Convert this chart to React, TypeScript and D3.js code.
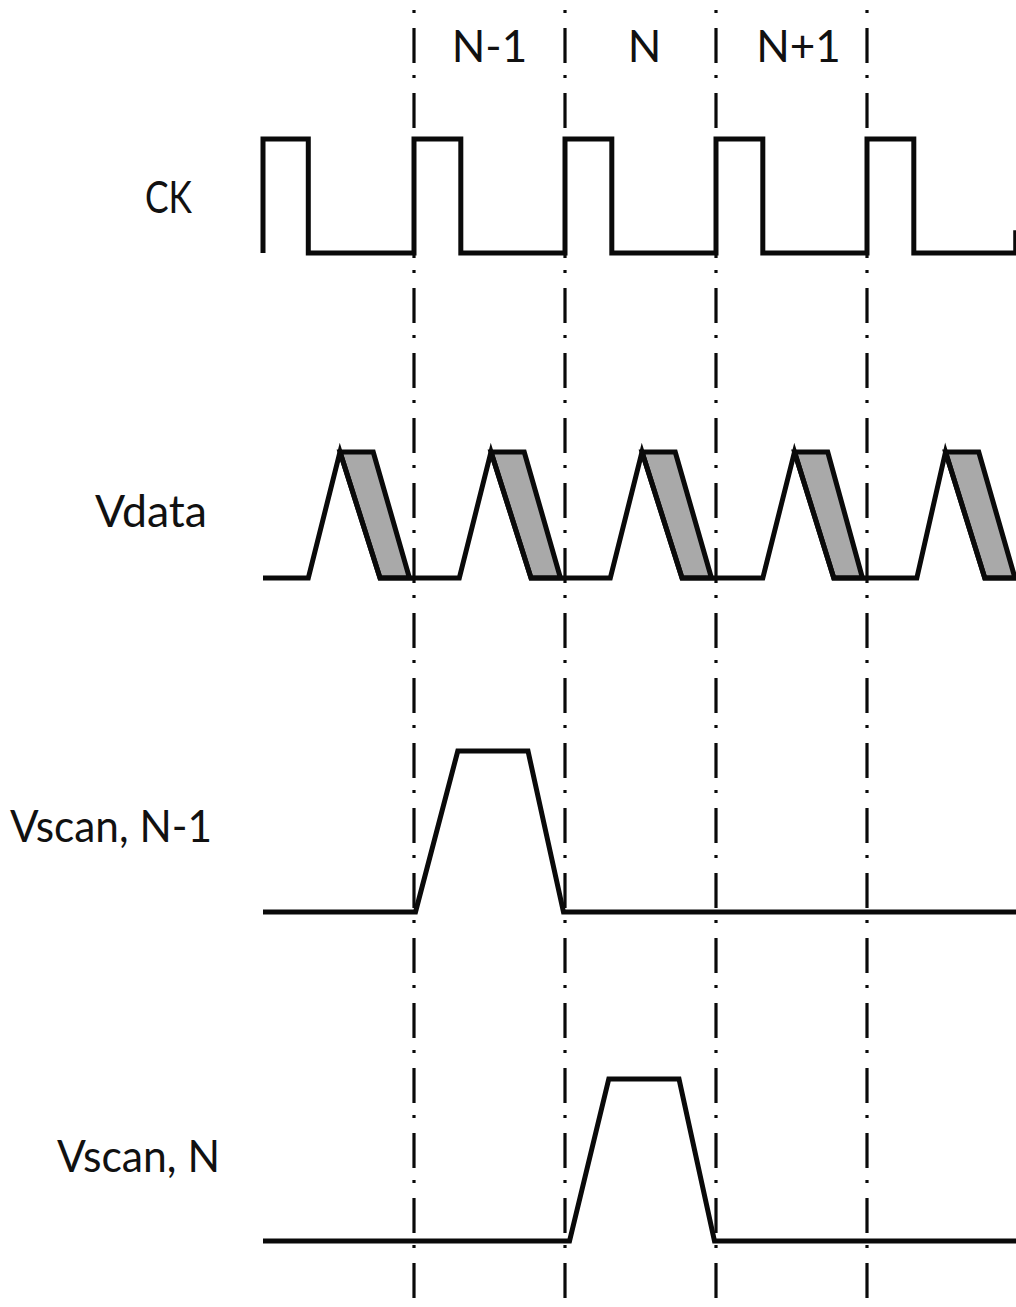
import React from "react";
import * as d3 from "d3";

// ---- data (time in frame periods; 0..3 are the frame boundaries) ----
const frameBoundaries = [0, 1, 2, 3];
const periodLabels = ["N-1", "N", "N+1"];
const signalLabels = ["CK", "Vdata", "Vscan, N-1", "Vscan, N"];

// CK: high pulses [start, end]
const ckHighStart = [-1, 0, 1, 2, 3];
const ckHighEnd = [-0.7, 0.31, 1.31, 2.31, 3.31];

// Vdata pulses
const vdataRise = [-0.7, 0.3, 1.3, 2.31, 3.33];
const vdataPeak = [-0.49, 0.51, 1.51, 2.52, 3.52];
const vdataTopRight = [-0.27, 0.73, 1.73, 2.74, 3.74];
const vdataBottomLeft = [-0.225, 0.775, 1.775, 2.78, 3.78];
const vdataBottomRight = [-0.03, 0.97, 1.97, 2.97, 3.98];

// Vscan waveforms: [time, level]
const vscanNm1: [number, number][] = [
  [-1, 0], [0.01, 0], [0.29, 1], [0.755, 1], [0.99, 0], [4, 0],
];
const vscanN: [number, number][] = [
  [-1, 0], [1.03, 0], [1.29, 1], [1.755, 1], [1.99, 0], [4, 0],
];

const W = 1016;
const H = 1307;

export default function App() {
  const x = d3.scaleLinear().domain([0, 1]).range([414, 565]);
  const yCK = d3.scaleLinear().domain([0, 1]).range([253, 139]);
  const yVd = d3.scaleLinear().domain([0, 1]).range([578, 452]);
  const yS1 = d3.scaleLinear().domain([0, 1]).range([912, 751]);
  const yS2 = d3.scaleLinear().domain([0, 1]).range([1241, 1079]);

  const mk = (ys: d3.ScaleLinear<number, number>) =>
    d3
      .line<[number, number]>()
      .x((d) => x(d[0]))
      .y((d) => ys(d[1]));

  // CK points
  const ckPts: [number, number][] = [];
  ckHighStart.forEach((s, i) => {
    ckPts.push([s, 0], [s, 1], [ckHighEnd[i], 1], [ckHighEnd[i], 0]);
  });
  ckPts.push([3.985, 0], [3.985, 0.2]);

  // Vdata outline
  const vdPts: [number, number][] = [[-1, 0]];
  vdataRise.forEach((r, i) => {
    vdPts.push([r, 0], [vdataPeak[i], 1], [vdataBottomLeft[i], 0]);
  });
  vdPts.push([4, 0]);

  const stroke = "#0a0a0a";
  const sw = 5;
  const font = "Lato, 'Open Sans', 'DejaVu Sans', sans-serif";

  const labelPos = [
    { x: 145, y: 213, len: 47 },
    { x: 95, y: 527, len: 112 },
    { x: 10, y: 842, len: 202 },
    { x: 57, y: 1172, len: 163 },
  ];

  return (
    <svg
      width={W}
      height={H}
      viewBox={`0 0 ${W} ${H}`}
      style={{ position: "absolute", left: 0, top: 0, background: "#fff" }}
    >
      <rect width={W} height={H} fill="#fff" />
      {/* frame boundaries */}
      {frameBoundaries.map((b) => (
        <line
          key={b}
          x1={x(b)}
          x2={x(b)}
          y1={0}
          y2={H}
          stroke={stroke}
          strokeWidth={3.2}
          strokeDasharray="35 12 3 15"
          strokeDashoffset={37}
        />
      ))}
      {/* period labels */}
      {periodLabels.map((l, i) => (
        <text
          key={l}
          x={(x(i) + x(i + 1)) / 2 + (i === 1 ? 4 : i === 2 ? 7 : 0)}
          y={62}
          textAnchor="middle"
          fontFamily={font}
          fontSize={44}
          fill="#111"
        >
          {l}
        </text>
      ))}
      {/* signal labels */}
      {signalLabels.map((l, i) => (
        <text
          key={l}
          x={labelPos[i].x}
          y={labelPos[i].y}
          fontFamily={font}
          fontSize={44}
          fill="#111"
          textLength={labelPos[i].len}
          lengthAdjust="spacingAndGlyphs"
        >
          {l}
        </text>
      ))}
      {/* CK */}
      <path d={mk(yCK)(ckPts) || ""} fill="none" stroke={stroke} strokeWidth={sw} strokeLinejoin="miter" />
      {/* Vdata gray bands */}
      {vdataRise.map((_, i) => {
        const poly: [number, number][] = [
          [vdataPeak[i], 1],
          [vdataTopRight[i], 1],
          [vdataBottomRight[i], 0],
          [vdataBottomLeft[i], 0],
          [vdataPeak[i], 1],
        ];
        return (
          <path
            key={i}
            d={(mk(yVd)(poly) || "") + "Z"}
            fill="#a9a9a9"
            stroke={stroke}
            strokeWidth={sw}
            strokeLinejoin="miter"
          />
        );
      })}
      <path d={mk(yVd)(vdPts) || ""} fill="none" stroke={stroke} strokeWidth={sw} strokeLinejoin="miter" />
      {/* Vscan */}
      <path d={mk(yS1)(vscanNm1) || ""} fill="none" stroke={stroke} strokeWidth={sw} />
      <path d={mk(yS2)(vscanN) || ""} fill="none" stroke={stroke} strokeWidth={sw} />
    </svg>
  );
}
